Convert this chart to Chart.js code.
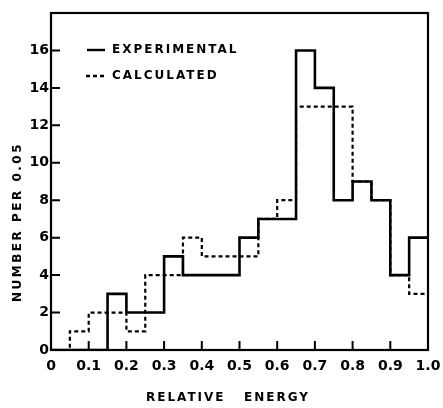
<!DOCTYPE html>
<html>
<head>
<meta charset="utf-8">
<script src="https://cdn.jsdelivr.net/npm/chart.js@4/dist/chart.umd.min.js"></script>
<style>
	body { margin: 0; background: #fff; }
	canvas { display: block; }
</style>
</head>
<body>
<canvas id="chart" width="443" height="408"></canvas>
<script>
// left edge of each 0.05 bin, plus the closing edge
var binEdges = [0, 0.05, 0.1, 0.15, 0.2, 0.25, 0.3, 0.35, 0.4, 0.45, 0.5,
	0.55, 0.6, 0.65, 0.7, 0.75, 0.8, 0.85, 0.9, 0.95, 1.0];
var experimental = [0, 0, 0, 3, 2, 2, 5, 4, 4, 4, 6, 7, 7, 16, 14, 8, 9, 8, 4, 6];
var calculated = [0, 1, 2, 2, 1, 4, 4, 6, 5, 5, 5, 7, 8, 13, 13, 13, 9, 8, 4, 3];
var xTickLabels = ['0', '0.1', '0.2', '0.3', '0.4', '0.5', '0.6', '0.7', '0.8', '0.9', '1.0'];
var yTickLabels = ['0', '2', '4', '6', '8', '10', '12', '14', '16', ''];

var fontFamily = '"DejaVu Sans", sans-serif';

function steps(values) {
	var pts = values.map(function(v, i) { return { x: binEdges[i], y: v }; });
	pts.push({ x: binEdges[binEdges.length - 1], y: values[values.length - 1] });
	return pts;
}

var decor = {
	id: 'decor',
	afterDraw: function(chart) {
		var ctx = chart.ctx;
		var a = chart.chartArea;
		var xs = chart.scales.x, ys = chart.scales.y;
		ctx.save();
		ctx.strokeStyle = '#000';
		ctx.lineWidth = 2.2;
		ctx.strokeRect(a.left, a.top, a.right - a.left, a.bottom - a.top);

		// inward tick marks
		ctx.lineWidth = 2;
		ctx.beginPath();
		for (var i = 1; i < xTickLabels.length - 1; i++) {
			var px = xs.getPixelForValue(i / 10);
			ctx.moveTo(px, a.bottom);
			ctx.lineTo(px, a.bottom - 9);
		}
		for (var j = 1; j < yTickLabels.length - 1; j++) {
			var py = ys.getPixelForValue(j * 2);
			ctx.moveTo(a.left, py);
			ctx.lineTo(a.left + 9, py);
		}
		ctx.stroke();

		// legend
		ctx.lineWidth = 2.4;
		ctx.beginPath();
		ctx.moveTo(87, 50); ctx.lineTo(105, 50);
		ctx.stroke();
		ctx.setLineDash([4, 3]);
		ctx.beginPath();
		ctx.moveTo(86, 76); ctx.lineTo(106, 76);
		ctx.stroke();
		ctx.setLineDash([]);

		ctx.fillStyle = '#000';
		ctx.font = 'bold 12px ' + fontFamily;
		ctx.letterSpacing = '2px';
		ctx.textBaseline = 'middle';
		ctx.textAlign = 'left';
		ctx.fillText('EXPERIMENTAL', 112, 50);
		ctx.fillText('CALCULATED', 112, 76);

		// axis titles
		ctx.textAlign = 'center';
		ctx.fillText('RELATIVE   ENERGY', 228, 398);
		ctx.translate(18, 222);
		ctx.rotate(-Math.PI / 2);
		ctx.letterSpacing = '2.5px';
		ctx.fillText('NUMBER PER 0.05', 0, 0);
		ctx.restore();
	}
};

var ctx = document.getElementById('chart').getContext('2d');
var chart = new Chart(ctx, {
	type: 'line',
	data: {
		datasets: [
			{
				label: 'EXPERIMENTAL',
				data: steps(experimental),
				stepped: 'before',
				borderColor: '#000',
				borderWidth: 2.6,
				pointRadius: 0,
				fill: false
			},
			{
				label: 'CALCULATED',
				data: steps(calculated),
				stepped: 'before',
				borderColor: '#000',
				borderWidth: 2.2,
				borderDash: [4, 3],
				pointRadius: 0,
				fill: false
			}
		]
	},
	options: {
		responsive: false,
		animation: false,
		layout: { padding: { top: 13, right: 15, left: 0, bottom: 0 } },
		plugins: {
			legend: { display: false },
			tooltip: { enabled: false }
		},
		scales: {
			x: {
				type: 'linear',
				min: 0,
				max: 1,
				grid: { display: false, drawTicks: false },
				border: { display: false },
				ticks: {
					stepSize: 0.1,
					padding: 8,
					color: '#000',
					maxRotation: 0,
					autoSkip: false,
					font: { family: fontFamily, size: 14, weight: 'bold' },
					callback: function(v, i) { return xTickLabels[i]; }
				},
				afterFit: function(scale) {
					scale.height = 58;
					scale.paddingLeft = 0;
					scale.paddingRight = 0;
				}
			},
			y: {
				min: 0,
				max: 18,
				grid: { display: false, drawTicks: false },
				border: { display: false },
				ticks: {
					stepSize: 2,
					padding: 2,
					color: '#000',
					font: { family: fontFamily, size: 14, weight: 'bold' },
					callback: function(v, i) { return yTickLabels[i]; }
				},
				afterFit: function(scale) {
					scale.width = 51;
					scale.paddingTop = 0;
					scale.paddingBottom = 0;
				}
			}
		}
	},
	plugins: [decor]
});
</script>
</body>
</html>
